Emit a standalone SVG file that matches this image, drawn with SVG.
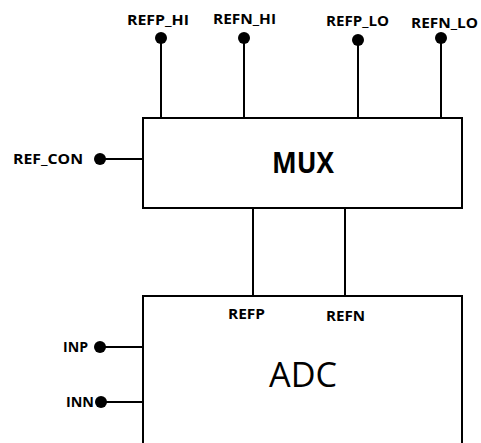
<svg xmlns="http://www.w3.org/2000/svg" width="481" height="443" viewBox="0 0 481 443">
<style>
.box{fill:#fff;stroke:#000;stroke-width:2}
.wire{stroke:#000;stroke-width:2;fill:none}
.dot{fill:#000}
.lbl{font-family:"Open Sans","Liberation Sans",sans-serif;font-weight:bold;font-size:14px;fill:#000}
.big{font-family:"Open Sans","Liberation Sans",sans-serif;font-weight:bold;font-size:28px;fill:#000}
.adc{font-family:"Open Sans","Liberation Sans",sans-serif;font-size:35px;fill:#000}
</style>
<rect width="481" height="443" fill="#fff"/>
<g id="connectors">
<line class="wire" x1="161" y1="38" x2="161" y2="118"/>
<line class="wire" x1="244" y1="38" x2="244" y2="118"/>
<line class="wire" x1="358" y1="40" x2="358" y2="118"/>
<line class="wire" x1="441" y1="38" x2="441" y2="118"/>
<line class="wire" x1="100" y1="159" x2="143" y2="159"/>
<line class="wire" x1="253" y1="208" x2="253" y2="296"/>
<line class="wire" x1="345" y1="208" x2="345" y2="296"/>
<line class="wire" x1="100" y1="347" x2="143" y2="347"/>
<line class="wire" x1="101" y1="402" x2="143" y2="402"/>
</g>
<g id="mux">
<rect class="box" x="143" y="118" width="319" height="90"/>
<text class="big" x="272" y="173" textLength="62" lengthAdjust="spacingAndGlyphs">MUX</text>
</g>
<g id="adc">
<rect class="box" x="143" y="296" width="319" height="160"/>
<text class="adc" x="269" y="387" textLength="68" lengthAdjust="spacingAndGlyphs">ADC</text>
<text class="lbl" x="228" y="319" textLength="37" lengthAdjust="spacingAndGlyphs">REFP</text>
<text class="lbl" x="326" y="321" textLength="39" lengthAdjust="spacingAndGlyphs">REFN</text>
</g>
<g id="refp_hi">
<circle class="dot" cx="161" cy="38" r="6"/>
<text class="lbl" x="127" y="25" textLength="62" lengthAdjust="spacingAndGlyphs">REFP_HI</text>
</g>
<g id="refn_hi">
<circle class="dot" cx="244" cy="38" r="6"/>
<text class="lbl" x="213" y="24" textLength="63" lengthAdjust="spacingAndGlyphs">REFN_HI</text>
</g>
<g id="refp_lo">
<circle class="dot" cx="358" cy="40" r="6"/>
<text class="lbl" x="326" y="26" textLength="63" lengthAdjust="spacingAndGlyphs">REFP_LO</text>
</g>
<g id="refn_lo">
<circle class="dot" cx="441" cy="38" r="6"/>
<text class="lbl" x="411" y="28" textLength="67" lengthAdjust="spacingAndGlyphs">REFN_LO</text>
</g>
<g id="ref_con">
<circle class="dot" cx="100" cy="159" r="6"/>
<text class="lbl" x="13" y="164" textLength="70" lengthAdjust="spacingAndGlyphs">REF_CON</text>
</g>
<g id="inp">
<circle class="dot" cx="100" cy="347" r="6"/>
<text class="lbl" x="63" y="352" textLength="25" lengthAdjust="spacingAndGlyphs">INP</text>
</g>
<g id="inn">
<circle class="dot" cx="101" cy="402" r="6"/>
<text class="lbl" x="66" y="407" textLength="28" lengthAdjust="spacingAndGlyphs">INN</text>
</g>
</svg>
